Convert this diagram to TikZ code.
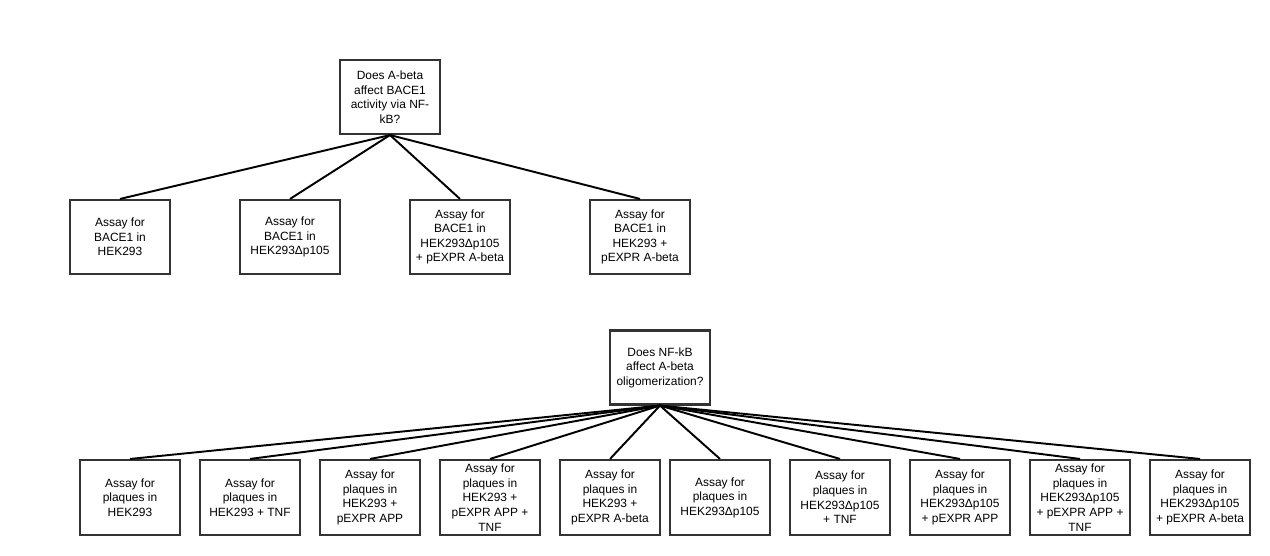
\documentclass[tikz,border=0pt]{standalone}
\usepackage{fontspec}
\setmainfont{Liberation Sans}
\usepackage{xcolor}
\usepackage{tikz}
\usetikzlibrary{positioning}
\definecolor{boxLine}{HTML}{333333}

\begin{document}
\begin{tikzpicture}[
    font=\fontsize{6.8}{8.3}\selectfont,
    box/.style={draw=boxLine, line width=1.2pt, align=center, minimum width=2cm, minimum height=1.48cm, inner sep=0pt, fill=white},
    link/.style={line width=1.1pt, black}
]
\useasboundingbox (0,0) rectangle (25.4,-11.1);

% first question
\node[box] (qbace) at (7.8,-1.94) {Does A-beta\\affect BACE1\\activity via NF-\\kB?};

\node[box] (bace1) at (2.4,-4.74) {Assay for\\BACE1 in\\HEK293};
\node[box] (bace2) at (5.8,-4.74) {Assay for\\BACE1 in\\HEK293Δp105};
\node[box] (bace3) at (9.2,-4.74) {Assay for\\BACE1 in\\HEK293Δp105\\+ pEXPR A-beta};
\node[box] (bace4) at (12.8,-4.74) {Assay for\\BACE1 in\\HEK293 +\\pEXPR A-beta};

\draw[link] (qbace.south) -- (bace1.north);
\draw[link] (qbace.south) -- (bace2.north);
\draw[link] (qbace.south) -- (bace3.north);
\draw[link] (qbace.south) -- (bace4.north);

% second question
\node[box] (qolig) at (13.2,-7.35) {Does NF-kB\\affect A-beta\\oligomerization?};

\node[box, minimum height=1.5cm] (plq1) at (2.6,-9.95) {Assay for\\plaques in\\HEK293};
\node[box, minimum height=1.5cm] (plq2) at (5.0,-9.95) {Assay for\\plaques in\\HEK293 + TNF};
\node[box, minimum height=1.5cm] (plq3) at (7.4,-9.95) {Assay for\\plaques in\\HEK293 +\\pEXPR APP};
\node[box, minimum height=1.5cm] (plq4) at (9.8,-9.95) {Assay for\\plaques in\\HEK293 +\\pEXPR APP +\\TNF};
\node[box, minimum height=1.5cm] (plq5) at (12.2,-9.95) {Assay for\\plaques in\\HEK293 +\\pEXPR A-beta};
\node[box, minimum height=1.5cm] (plq6) at (14.4,-9.95) {Assay for\\plaques in\\HEK293Δp105};
\node[box, minimum height=1.5cm] (plq7) at (16.8,-9.95) {Assay for\\plaques in\\HEK293Δp105\\+ TNF};
\node[box, minimum height=1.5cm] (plq8) at (19.2,-9.95) {Assay for\\plaques in\\HEK293Δp105\\+ pEXPR APP};
\node[box, minimum height=1.5cm] (plq9) at (21.6,-9.95) {Assay for\\plaques in\\HEK293Δp105\\+ pEXPR APP +\\TNF};
\node[box, minimum height=1.5cm] (plq10) at (24.0,-9.95) {Assay for\\plaques in\\HEK293Δp105\\+ pEXPR A-beta};

\draw[link] (qolig.south) -- (plq1.north);
\draw[link] (qolig.south) -- (plq2.north);
\draw[link] (qolig.south) -- (plq3.north);
\draw[link] (qolig.south) -- (plq4.north);
\draw[link] (qolig.south) -- (plq5.north);
\draw[link] (qolig.south) -- (plq6.north);
\draw[link] (qolig.south) -- (plq7.north);
\draw[link] (qolig.south) -- (plq8.north);
\draw[link] (qolig.south) -- (plq9.north);
\draw[link] (qolig.south) -- (plq10.north);

\end{tikzpicture}
\end{document}
